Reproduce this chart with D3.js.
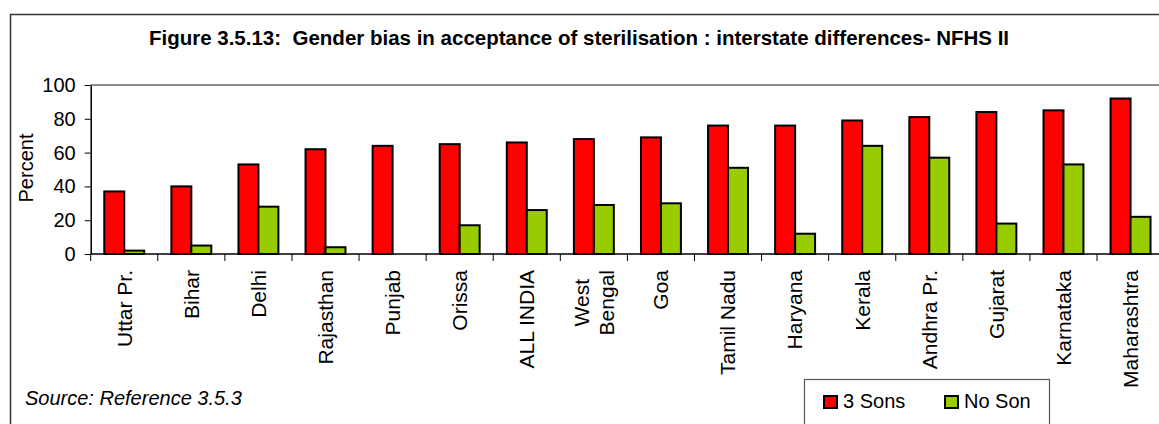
<!DOCTYPE html>
<html>
<head>
<meta charset="utf-8">
<script src="https://cdn.jsdelivr.net/npm/d3@7"></script>
<style>
  html, body { margin: 0; padding: 0; background: #fff; }
  svg { display: block; font-family: "Liberation Sans", Arial, sans-serif; }
</style>
</head>
<body>
<svg id="chart" width="1159" height="424"></svg>
<script>
// States (with the all-India figure) ordered by acceptance among women with 3 sons
const states = ["Uttar Pr.", "Bihar", "Delhi", "Rajasthan", "Punjab", "Orissa", "ALL INDIA",
  "West Bengal", "Goa", "Tamil Nadu", "Haryana", "Kerala", "Andhra Pr.", "Gujarat",
  "Karnataka", "Maharashtra"];
const seriesNames = ["3 Sons", "No Son"];
const threeSons = [37, 40, 53, 62, 64, 65, 66, 68, 69, 76, 76, 79, 81, 84, 85, 92];
const noSon     = [2, 5, 28, 4, 0, 17, 26, 29, 30, 51, 12, 64, 57, 18, 53, 22];
const yTicks = [0, 20, 40, 60, 80, 100];
const seriesColors = ["#ff0000", "#99cc00"];

const svg = d3.select("#chart");

// Outer chart frame (runs off the right and bottom edges)
svg.append("rect")
  .attr("x", 10.5).attr("y", 14.5)
  .attr("width", 1300).attr("height", 600)
  .attr("fill", "#fff").attr("stroke", "#333").attr("stroke-width", 1.5);

svg.append("text")
  .attr("x", 579).attr("y", 45)
  .attr("text-anchor", "middle")
  .attr("font-weight", "bold").attr("font-size", 20.5)
  .style("white-space", "pre")
  .text("Figure 3.5.13:  Gender bias in acceptance of sterilisation : interstate differences- NFHS II");

const plot = { left: 90.7, right: 1164.1, top: 85, bottom: 254 };

const x0 = d3.scaleBand().domain(states).range([plot.left, plot.right]).padding(0);
const x1 = d3.scaleBand().domain(seriesNames).range([0, x0.bandwidth()])
  .paddingInner(0).paddingOuter(0.68);
const y = d3.scaleLinear().domain([0, 100]).range([plot.bottom, plot.top]);

// Plot-area top edge
svg.append("line")
  .attr("x1", plot.left).attr("x2", 1159)
  .attr("y1", y(100)).attr("y2", y(100))
  .attr("stroke", "#8c8c8c").attr("stroke-width", 2);

// Bars
const rows = states.map((s, i) => ({ state: s, values: [threeSons[i], noSon[i]] }));
const groups = svg.append("g").selectAll("g")
  .data(rows).join("g")
  .attr("transform", d => `translate(${x0(d.state)},0)`);

groups.selectAll("rect")
  .data(d => d.values.map((v, j) => ({ key: seriesNames[j], value: v, color: seriesColors[j] })))
  .join("rect")
  .filter(d => d.value > 0)
  .attr("x", d => x1(d.key))
  .attr("y", d => y(d.value))
  .attr("width", x1.bandwidth())
  .attr("height", d => y(0) - y(d.value))
  .attr("fill", d => d.color)
  .attr("stroke", "#000").attr("stroke-width", 2);

// Y axis
const yAxis = svg.append("g")
  .attr("transform", `translate(${plot.left},0)`)
  .call(d3.axisLeft(y).tickValues(yTicks).tickSize(6).tickPadding(9).tickSizeOuter(0));
yAxis.select(".domain").attr("stroke", "#000").attr("stroke-width", 1.5);
yAxis.selectAll(".tick line").attr("stroke", "#000");
yAxis.selectAll(".tick text").attr("font-size", 20).attr("fill", "#000")
  .attr("font-family", "Liberation Sans, Arial, sans-serif");

// X axis: ticks sit on the category boundaries
const xAxisG = svg.append("g").attr("transform", `translate(0,${plot.bottom})`);
xAxisG.append("line")
  .attr("x1", plot.left).attr("x2", 1159)
  .attr("stroke", "#000").attr("stroke-width", 1.5);
const boundaries = states.map(s => x0(s)).concat([plot.right]);
xAxisG.selectAll("line.tick")
  .data(boundaries).join("line")
  .attr("class", "tick")
  .attr("x1", d => d).attr("x2", d => d)
  .attr("y1", 0).attr("y2", 7)
  .attr("stroke", "#000");

// Category labels, rotated to read upward
const labelG = xAxisG.selectAll("g.lbl")
  .data(states).join("g")
  .attr("class", "lbl")
  .attr("transform", d => `translate(${x0(d) + x0.bandwidth() / 2},16) rotate(-90)`);
labelG.each(function (d) {
  const g = d3.select(this);
  const lines = d === "West Bengal" ? ["West", "Bengal"] : [d];
  const lh = 25;
  lines.forEach((t, k) => {
    g.append("text")
      .attr("x", 0)
      .attr("y", (k - (lines.length - 1) / 2) * lh)
      .attr("dy", "0.35em")
      .attr("text-anchor", lines.length > 1 ? "middle" : "end")
      .attr("font-size", 21)
      .text(t);
  });
  if (lines.length > 1) {
    // centre the wrapped block under the longest line's end
    const w = g.node().getBBox().width;
    g.selectAll("text").attr("x", -w / 2);
  }
});

// Y axis title
svg.append("text")
  .attr("transform", `translate(33,168) rotate(-90)`)
  .attr("text-anchor", "middle")
  .attr("font-size", 20)
  .text("Percent");

// Source note
svg.append("text")
  .attr("x", 25).attr("y", 405)
  .attr("font-size", 20).attr("font-style", "italic")
  .text("Source: Reference 3.5.3");

// Legend
const legend = svg.append("g");
legend.append("rect")
  .attr("x", 804.5).attr("y", 379.5)
  .attr("width", 245).attr("height", 80)
  .attr("fill", "#fff").attr("stroke", "#555").attr("stroke-width", 1.2);
const legendX = [824, 945];
seriesNames.forEach((name, i) => {
  legend.append("rect")
    .attr("x", legendX[i]).attr("y", 396)
    .attr("width", 13).attr("height", 12)
    .attr("fill", seriesColors[i]).attr("stroke", "#000").attr("stroke-width", 2);
  legend.append("text")
    .attr("x", legendX[i] + 19).attr("y", 408)
    .attr("font-size", 20)
    .text(name);
});
</script>
</body>
</html>
